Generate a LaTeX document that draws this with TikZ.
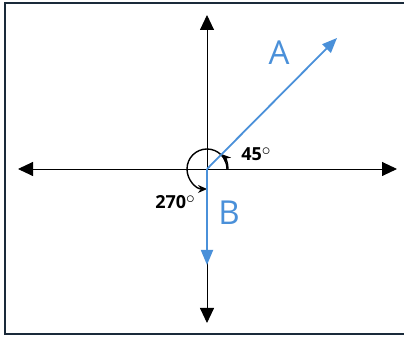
\documentclass[tikz,border=0pt]{standalone}
\usepackage{fontspec}
\setmainfont{Open Sans}
\usetikzlibrary{arrows.meta}
\definecolor{vecblue}{RGB}{74,144,217}
\definecolor{frame}{RGB}{26,42,58}
\newcommand{\degring}{\raisebox{0.3em}{$\circ$}}
\tikzset{
  axis/.style={black, line width=0.9pt, -{Triangle[length=15pt,width=14pt]}},
  vec/.style={vecblue, line width=1.8pt, -{Triangle[length=15pt,width=12pt]}},
  anglearc/.style={black, line width=1.4pt, -{Stealth[length=9pt,width=8pt]}},
  veclabel/.style={text=vecblue, font=\fontsize{33}{36}\selectfont, inner sep=0pt},
  anglabel/.style={text=black, font=\fontsize{18}{20}\selectfont\bfseries, inner sep=0pt}
}
\begin{document}
\begin{tikzpicture}[x=1pt,y=1pt]
\useasboundingbox (0,0) rectangle (404,339);
\draw[frame, line width=1.6pt] (5,5) rectangle (412,336);
\coordinate (O) at (207,170);
\coordinate (L) at (18,170);
\coordinate (R) at (397,170);
\coordinate (T) at (207,324);
\coordinate (D) at (207,16);
\coordinate (Atip) at (337,301);
\coordinate (Btip) at (207,74);
\draw[axis] (O) -- (L);
\draw[axis] (O) -- (R);
\draw[axis] (O) -- (T);
\draw[axis] (O) -- (D);
\draw[anglearc] ([shift={(0:20)}]O) arc[start angle=0, end angle=270, radius=20];
\draw[anglearc] ([shift={(0:21)}]O) arc[start angle=0, end angle=45, radius=21];
\draw[vec] (O) -- (Atip);
\draw[vec] (O) -- (Btip);
\node[veclabel] (la) at (279,286) {A};
\node[veclabel] (lb) at (229,126) {B};
\node[anglabel] (l45) at (256,185) {45\degring};
\node[anglabel] (l270) at (175,137) {270\degring};
\end{tikzpicture}
\end{document}
